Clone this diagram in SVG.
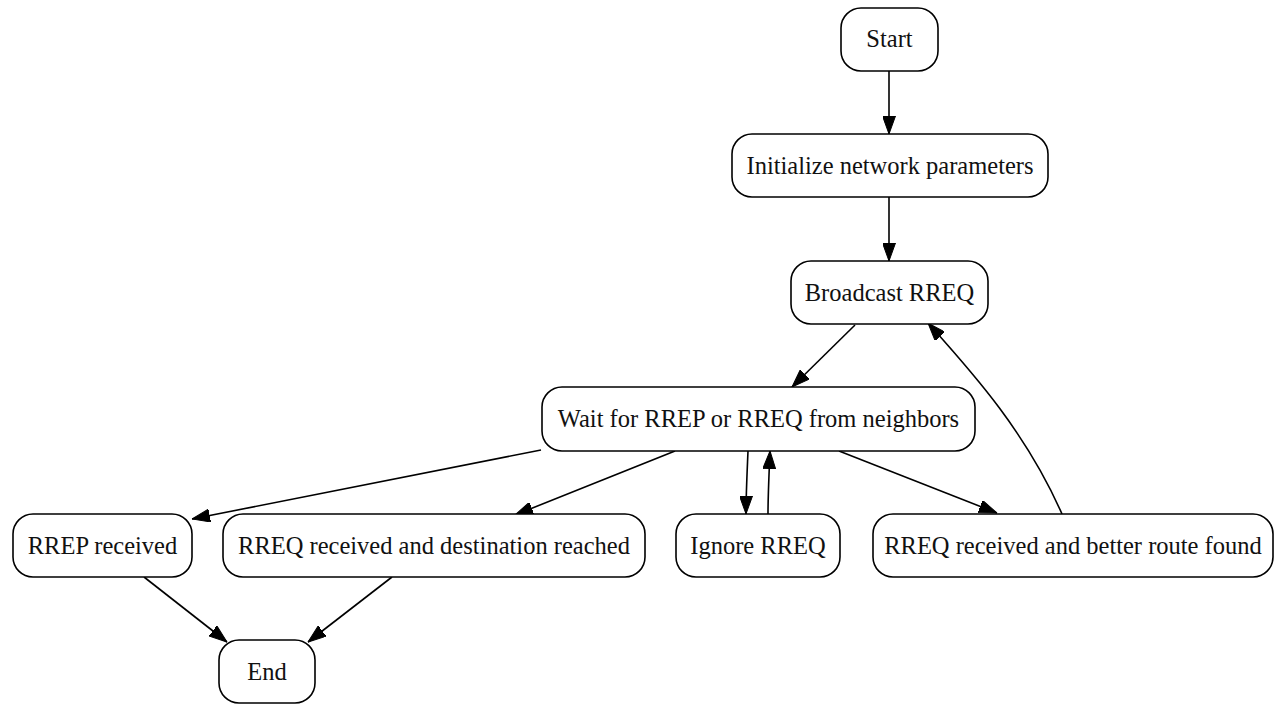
<svg xmlns="http://www.w3.org/2000/svg" width="1275" height="704" viewBox="0 0 1275 704">
  <style>
    .node rect { fill: #ffffff; stroke: #000000; stroke-width: 1.6; }
    .node text { font-family: "Liberation Serif", "Times New Roman", serif; font-size: 24.5px; fill: #111111; text-anchor: middle; }
    .edges path { fill: none; stroke: #000000; stroke-width: 1.6; marker-end: url(#arrow); }
  </style>
  <defs>
    <marker id="arrow" viewBox="0 0 18 13" refX="18" refY="6.5" markerUnits="userSpaceOnUse" markerWidth="18" markerHeight="13" orient="auto">
      <path d="M0,0 L18,6.5 L0,13 Z" fill="#000000" stroke="#000000" stroke-width="1"/>
    </marker>
  </defs>
  <rect width="1275" height="704" fill="#ffffff"/>

  <g class="edges">
    <path d="M889,71 L889,134"/>
    <path d="M889,197 L889,261"/>
    <path d="M855,325 L792,387"/>
    <path d="M541,450 L192,519"/>
    <path d="M675,451 L515,515"/>
    <path d="M748,451 C747,475 746,495 746,514"/>
    <path d="M768,514 C768,495 769,475 770,451"/>
    <path d="M839,451 L997,513"/>
    <path d="M1062,514 C1025,430 970,370 928,323"/>
    <path d="M144,577 L227,642"/>
    <path d="M392,577 L308,642"/>
  </g>

  <g id="start" class="node">
    <rect x="841" y="8" width="97" height="63" rx="20"/>
    <text x="889.5" y="47">Start</text>
  </g>
  <g id="init" class="node">
    <rect x="732" y="134" width="316" height="63" rx="20"/>
    <text x="890" y="173.5">Initialize network parameters</text>
  </g>
  <g id="broadcast" class="node">
    <rect x="791" y="261" width="197" height="63" rx="20"/>
    <text x="889.5" y="300.5">Broadcast RREQ</text>
  </g>
  <g id="wait" class="node">
    <rect x="542" y="387" width="433" height="64" rx="20"/>
    <text x="758.5" y="427">Wait for RREP or RREQ from neighbors</text>
  </g>
  <g id="rrep" class="node">
    <rect x="13" y="514" width="179" height="63" rx="20"/>
    <text x="102.5" y="553.5">RREP received</text>
  </g>
  <g id="rreq_dest" class="node">
    <rect x="223" y="514" width="422" height="63" rx="20"/>
    <text x="434" y="553.5">RREQ received and destination reached</text>
  </g>
  <g id="ignore" class="node">
    <rect x="676" y="514" width="164" height="63" rx="20"/>
    <text x="758" y="553.5">Ignore RREQ</text>
  </g>
  <g id="rreq_better" class="node">
    <rect x="873" y="514" width="400" height="63" rx="20"/>
    <text x="1073" y="553.5">RREQ received and better route found</text>
  </g>
  <g id="end" class="node">
    <rect x="219" y="640" width="96" height="63" rx="20"/>
    <text x="267" y="679.5">End</text>
  </g>
</svg>
